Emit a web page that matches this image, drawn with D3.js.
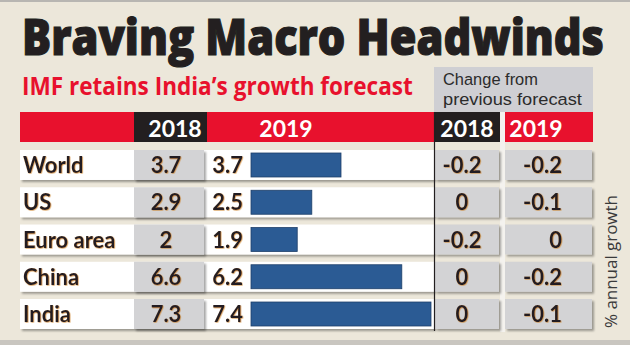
<!DOCTYPE html>
<html><head><meta charset="utf-8">
<script src="https://cdn.jsdelivr.net/npm/d3@7"></script>
<style>
html,body{margin:0;padding:0;background:#ece7da;}
svg{display:block;}
</style></head>
<body>
<svg id="c" width="630" height="345"></svg>
<script>
const title = "Braving Macro Headwinds";
const subtitle = "IMF retains India\u2019s growth forecast";
const changeLabel = ["Change from", "previous forecast"];
const headers = ["2018", "2019", "2018", "2019"];
const countries = ["World", "US", "Euro area", "China", "India"];
const v2018 = ["3.7", "2.9", "2", "6.6", "7.3"];
const v2019 = [3.7, 2.5, 1.9, 6.2, 7.4];
const ch2018 = ["-0.2", "0", "-0.2", "0", "0"];
const ch2019 = ["-0.2", "-0.1", "0", "-0.2", "-0.1"];
const unitLabel = "% annual growth";

const svg = d3.select("#c");
const defs = svg.append("defs");
const f = defs.append("filter").attr("id","sh").attr("x","-10%").attr("y","-20%").attr("width","130%").attr("height","160%");
f.append("feDropShadow").attr("dx",2).attr("dy",2).attr("stdDeviation",1.3).attr("flood-color","#000").attr("flood-opacity",0.35);
const ft = defs.append("filter").attr("id","tsh");
ft.append("feDropShadow").attr("dx",0.6).attr("dy",0.6).attr("stdDeviation",0.3).attr("flood-color","#c8781e").attr("flood-opacity",0.8);

svg.append("rect").attr("x",0).attr("y",0).attr("width",630).attr("height",345).attr("fill","#ece7da");
svg.append("rect").attr("x",0).attr("y",0).attr("width",630).attr("height",2).attr("fill","#b8b6b2");
svg.append("rect").attr("x",0).attr("y",340).attr("width",630).attr("height",5).attr("fill","#c9c6c0");

// fit a text horizontally to a target width by scaling around its anchor x
function fitX(t, x0, y0, width, rot){
  const w = t.node().getComputedTextLength();
  const s = width / w;
  t.attr("x",0).attr("y",0);
  if (rot) t.attr("transform",`translate(${x0},${y0}) rotate(${rot}) scale(${s},1)`);
  else t.attr("transform",`translate(${x0},${y0}) scale(${s},1)`);
  return t;
}

// title
const tt = svg.append("text").text(title)
  .attr("font-family","'Open Sans', 'DejaVu Sans', sans-serif").attr("font-weight",800)
  .attr("font-size",49).attr("fill","#231f20").attr("stroke","#231f20").attr("stroke-width",1.2);
fitX(tt, 22, 55, 582);
const st = svg.append("text").text(subtitle)
  .attr("font-family","'Open Sans', sans-serif").attr("font-weight",700)
  .attr("font-size",25).attr("fill","#e8112d");
fitX(st, 22, 95, 391);

// change box
svg.append("rect").attr("x",434).attr("y",67).attr("width",159).attr("height",45).attr("fill","#cfcfd3");
const c1 = svg.append("text").text(changeLabel[0])
  .attr("font-family","'Liberation Sans', sans-serif").attr("font-size",17).attr("fill","#2b2b2b");
fitX(c1, 443, 85, 95);
const c2 = svg.append("text").text(changeLabel[1])
  .attr("font-family","'Liberation Sans', sans-serif").attr("font-size",17).attr("fill","#2b2b2b");
fitX(c2, 443, 105, 139);

// header bar
const hy = 112, hh = 30;
svg.append("rect").attr("x",20).attr("y",hy).attr("width",414).attr("height",hh).attr("fill","#e8112d");
svg.append("rect").attr("x",134).attr("y",hy).attr("width",73).attr("height",hh).attr("fill","#231f20");
svg.append("rect").attr("x",434).attr("y",hy).attr("width",66).attr("height",hh).attr("fill","#231f20");
svg.append("rect").attr("x",500).attr("y",hy).attr("width",5).attr("height",hh+190).attr("fill","#f4f2ee");
svg.append("rect").attr("x",505).attr("y",hy).attr("width",88).attr("height",hh).attr("fill","#e8112d");
const hx = [[175,"middle"],[286,"middle"],[467,"middle"],[536,"middle"]];
headers.forEach((h,i)=>{
  svg.append("text").attr("x",hx[i][0]).attr("y",137).attr("text-anchor",hx[i][1]).text(h)
    .attr("font-family","Lato, 'Open Sans', sans-serif").attr("font-weight",700)
    .attr("font-size",23).attr("fill","#ffffff");
});

// scales
const y = d3.scaleBand().domain(countries).range([150,329]).paddingInner(0.195).paddingOuter(0);
const x = d3.scaleLinear().domain([0,7.4]).range([251,431]);
const bw = y.bandwidth();

const rows = svg.append("g").selectAll("g").data(countries).join("g");
rows.append("rect").attr("x",20).attr("y",d=>y(d)).attr("width",414).attr("height",bw)
  .attr("fill","#ffffff").attr("filter","url(#sh)");
rows.append("rect").attr("x",134).attr("y",d=>y(d)).attr("width",70).attr("height",bw)
  .attr("fill","#d3d3d5").attr("filter","url(#sh)");
rows.append("rect").attr("x",435).attr("y",d=>y(d)).attr("width",64).attr("height",bw)
  .attr("fill","#d3d3d5").attr("filter","url(#sh)");
rows.append("rect").attr("x",505).attr("y",d=>y(d)).attr("width",87).attr("height",bw)
  .attr("fill","#d3d3d5").attr("filter","url(#sh)");
rows.append("rect").attr("x",x(0)).attr("y",d=>y(d)+3).attr("width",(d,i)=>x(v2019[i])-x(0)).attr("height",bw-6)
  .attr("fill","#2b5b94").attr("stroke","#1e3f69").attr("stroke-width",0.8);

const tf = "Lato, 'Open Sans', sans-serif";
function txt(sel, xx, anchor, fn, fill){
  sel.append("text").attr("x",xx).attr("y",d=>y(d)+bw/2+8).attr("text-anchor",anchor)
    .text(fn).attr("font-family",tf).attr("font-weight",700).attr("font-size",22)
    .attr("fill",fill||"#231f20").attr("filter","url(#tsh)");
}
txt(rows, 23, "start", d=>d);
txt(rows, 166, "middle", (d,i)=>v2018[i]);
txt(rows, 243, "end", (d,i)=>d3.format(".1f")(v2019[i]));
txt(rows, 462, "middle", (d,i)=>ch2018[i]);
txt(rows, 562, "end", (d,i)=>ch2019[i]);

// divider line
svg.append("line").attr("x1",434.5).attr("x2",434.5).attr("y1",hy).attr("y2",331).attr("stroke","#231f20").attr("stroke-width",1.2);

// unit label
const ul = svg.append("text").text(unitLabel)
  .attr("font-family","'Open Sans', sans-serif").attr("font-size",16).attr("fill","#3a3a3a");
fitX(ul, 617, 328, 133, -90);
</script>
</body></html>
